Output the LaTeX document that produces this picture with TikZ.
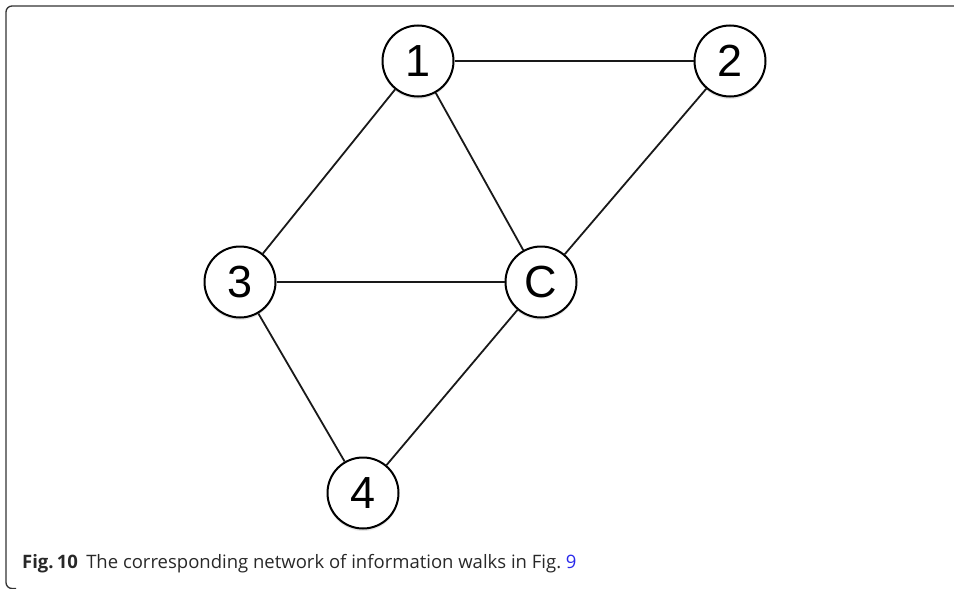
\documentclass[tikz,border=0pt]{standalone}
\usepackage{fontspec}
\setmainfont{Open Sans}
\newfontfamily\nodefont{Liberation Sans}
\usepackage{tikz}
\usetikzlibrary{shadows}
\usepackage{xcolor}
\definecolor{framegray}{RGB}{50,50,50}
\definecolor{captiongray}{RGB}{40,40,40}
\definecolor{refblue}{RGB}{40,40,235}

\begin{document}
\begin{tikzpicture}[
    x=1pt, y=-1pt,
    vertex/.style={circle, draw=black, line width=2pt, fill=white, minimum size=71pt,
        inner sep=0pt, font=\nodefont\fontsize{45}{45}\selectfont,
        drop shadow={opacity=0.2, shadow xshift=0pt, shadow yshift=-2.5pt}},
    link/.style={line width=1.8pt, draw=black!90},
    caption/.style={anchor=base west, inner sep=0pt, text=captiongray,
        font=\fontsize{18.5}{21}\selectfont}
]
\useasboundingbox (0,0) rectangle (954,589);
% frame: top and left rules, round corners
\draw[framegray, line width=1.3pt, rounded corners=6pt] (954,6) -- (6,6) -- (6,588.5) -- (16,588.5);
% vertices
\node[vertex] (n1) at (418, 61) {1};
\node[vertex] (n2) at (730, 61) {2};
\node[vertex] (n3) at (240, 282) {3};
\node[vertex] (nc) at (541, 282) {C};
\node[vertex] (n4) at (363, 493) {4};
% edges
\draw[link] (n1) -- (n2);
\draw[link] (n1) -- (n3);
\draw[link] (n1) -- (nc);
\draw[link] (n2) -- (nc);
\draw[link] (n3) -- (nc);
\draw[link] (n3) -- (n4);
\draw[link] (nc) -- (n4);
% caption
\node[caption] (cap) at (22, 568) {\textbf{Fig.\,10}\hspace{0.45em}The corresponding network of information walks in Fig.~\textcolor{refblue}{9}};
\end{tikzpicture}
\end{document}
